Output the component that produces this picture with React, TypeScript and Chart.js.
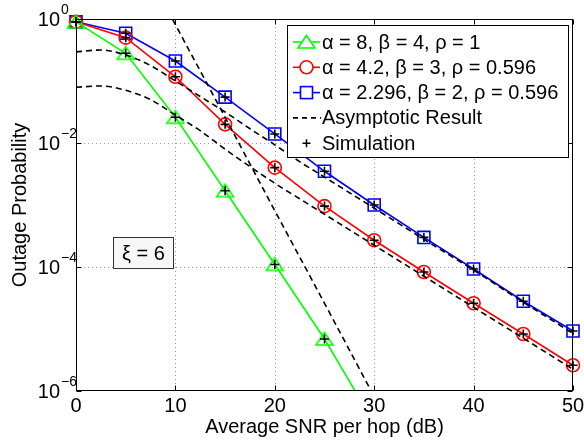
import React, { useEffect, useRef } from "react";
import { Chart, registerables } from "chart.js";
Chart.register(...registerables);

// ---- data ----
const snrDb = [0, 5, 10, 15, 20, 25, 30, 35, 40, 45, 50];
const snrDbAlpha8 = [0, 5, 10, 15, 20, 25, 30];
const outageAlpha8 = [0.9, 0.28, 0.026, 0.0017, 1.1e-4, 6.9e-6, 3e-7];
const outageAlpha42 = [0.9, 0.5, 0.117, 0.02, 0.004, 9.6e-4, 2.7e-4, 8.3e-5, 2.6e-5, 8.3e-6, 2.6e-6];
const outageAlpha2296 = [0.9, 0.59, 0.21, 0.055, 0.014, 0.0035, 0.001, 3.0e-4, 9.3e-5, 2.8e-5, 9.3e-6];

const simSnrDbAlpha8 = [0, 5, 10, 15, 20, 25];
const simAlpha8 = [0.9, 0.28, 0.026, 0.0017, 1.1e-4, 6.9e-6];
const simAlpha42 = [0.9, 0.5, 0.117, 0.02, 0.004, 9.6e-4, 2.7e-4, 8.3e-5, 2.6e-5, 8.3e-6, 2.6e-6];
const simAlpha2296 = [0.9, 0.59, 0.21, 0.055, 0.014, 0.0035, 0.001, 3.0e-4, 9.3e-5, 2.8e-5, 9.3e-6];

const asymSnrDb = [0, 2.5, 5, 7.5, 10, 12.5, 15, 17.5, 20, 22.5, 25, 30, 35, 40, 45, 50];
const asymAlpha42 = [0.0794, 0.0832, 0.0708, 0.0501, 0.0282, 0.0158, 0.00794, 0.00417, 0.00224, 0.00126, 7.1e-4, 2.24e-4, 7.1e-5, 2.24e-5, 7.1e-6, 2.24e-6];
const asymAlpha2296 = [0.295, 0.316, 0.263, 0.178, 0.1, 0.0562, 0.0316, 0.017, 0.00933, 0.005, 0.00282, 8.9e-4, 2.8e-4, 8.9e-5, 2.7e-5, 8.5e-6];
const asymSnrDbAlpha8 = [5, 10, 15, 20, 25, 30];
const asymAlpha8 = [26, 0.81, 0.026, 8.1e-4, 2.6e-5, 8.1e-7];

const legendLabels = [
  "α = 8, β = 4, ρ = 1",
  "α = 4.2, β = 3, ρ = 0.596",
  "α = 2.296, β = 2, ρ = 0.596",
  "Asymptotic Result",
  "Simulation",
];
const xTicks = [0, 10, 20, 30, 40, 50];
const yTicks = [1, 1e-2, 1e-4, 1e-6];
const yTickExponents = ["0", "−2", "−4", "−6"];
const xTitle = "Average SNR per hop (dB)";
const yTitle = "Outage Probability";
const annotationText = "ξ = 6";

const GREEN = "#00ff00";
const RED = "#ff0000";
const BLUE = "#0000ff";
const FONT = '"Liberation Sans", Arial, Helvetica, sans-serif';

function pts(xs: number[], ys: number[]) {
  return xs.map((x, i) => ({ x, y: ys[i] }));
}

function triPath(ctx: CanvasRenderingContext2D, x: number, y: number) {
  ctx.beginPath();
  ctx.moveTo(x, y - 6.5);
  ctx.lineTo(x + 8.5, y + 6);
  ctx.lineTo(x - 8.5, y + 6);
  ctx.closePath();
}

function makeTriangle(): HTMLCanvasElement {
  const c = document.createElement("canvas");
  c.width = 20;
  c.height = 16;
  const g = c.getContext("2d")!;
  triPath(g, 10, 8);
  g.strokeStyle = GREEN;
  g.lineWidth = 1.6;
  g.stroke();
  return c;
}

const framePlugin = {
  id: "frame",
  beforeDatasetsDraw(chart: any) {
    const { ctx, chartArea: a, scales } = chart;
    const xs = scales.x;
    const ys = scales.y;
    ctx.save();
    ctx.strokeStyle = "#9a9a9a";
    ctx.lineWidth = 1;
    ctx.setLineDash([1, 3]);
    for (const v of xTicks) {
      if (v === 0 || v === 50) continue;
      const p = Math.round(xs.getPixelForValue(v)) + 0.5;
      ctx.beginPath();
      ctx.moveTo(p, a.top);
      ctx.lineTo(p, a.bottom);
      ctx.stroke();
    }
    for (const v of yTicks) {
      if (v === 1 || v === 1e-6) continue;
      const p = Math.round(ys.getPixelForValue(v)) + 0.5;
      ctx.beginPath();
      ctx.moveTo(a.left, p);
      ctx.lineTo(a.right, p);
      ctx.stroke();
    }
    ctx.restore();
  },
  afterDatasetsDraw(chart: any) {
    const { ctx, chartArea: a, scales } = chart;
    const xs = scales.x;
    const ys = scales.y;
    ctx.save();
    // axes box
    ctx.strokeStyle = "#000";
    ctx.lineWidth = 1;
    ctx.setLineDash([]);
    const L = Math.round(a.left) + 0.5;
    const R = Math.round(a.right) - 0.5;
    const T = Math.round(a.top) + 0.5;
    const B = Math.round(a.bottom) - 0.5;
    ctx.strokeRect(L, T, R - L, B - T);
    // inward ticks
    ctx.beginPath();
    for (const v of xTicks) {
      const p = Math.round(xs.getPixelForValue(v)) + 0.5;
      ctx.moveTo(p, B);
      ctx.lineTo(p, B - 5);
      ctx.moveTo(p, T);
      ctx.lineTo(p, T + 5);
    }
    for (const v of yTicks) {
      const p = Math.round(ys.getPixelForValue(v)) + 0.5;
      ctx.moveTo(L, p);
      ctx.lineTo(L + 5, p);
      ctx.moveTo(R, p);
      ctx.lineTo(R - 5, p);
    }
    ctx.stroke();

    // tick labels
    ctx.fillStyle = "#000";
    ctx.font = `20px ${FONT}`;
    ctx.textAlign = "center";
    ctx.textBaseline = "alphabetic";
    for (const v of xTicks) {
      ctx.fillText(String(v), xs.getPixelForValue(v), 412);
    }
    yTicks.forEach((v, i) => {
      const p = ys.getPixelForValue(v);
      ctx.font = `20px ${FONT}`;
      ctx.textAlign = "right";
      ctx.textBaseline = "middle";
      ctx.fillText("10", 60, p + 1);
      ctx.font = `14px ${FONT}`;
      ctx.textAlign = "left";
      ctx.fillText(yTickExponents[i], 61, p - 9);
    });

    // axis titles
    ctx.font = `20px ${FONT}`;
    ctx.textAlign = "center";
    ctx.textBaseline = "alphabetic";
    ctx.fillText(xTitle, (a.left + a.right) / 2, 433);
    ctx.save();
    ctx.translate(26, (a.top + a.bottom) / 2);
    ctx.rotate(-Math.PI / 2);
    ctx.fillText(yTitle, 0, 0);
    ctx.restore();

    // annotation box
    ctx.fillStyle = "#f7f7f7";
    ctx.fillRect(113.5, 237.5, 60, 31);
    ctx.strokeStyle = "#333";
    ctx.strokeRect(113.5, 237.5, 60, 31);
    ctx.fillStyle = "#000";
    ctx.textAlign = "center";
    ctx.textBaseline = "middle";
    ctx.fillText(annotationText, 143.5, 254);

    // legend
    const bx = 287.5, by = 25.5, bw = 281, bh = 132;
    ctx.fillStyle = "#fff";
    ctx.fillRect(bx, by, bw, bh);
    ctx.strokeStyle = "#000";
    ctx.lineWidth = 1;
    ctx.strokeRect(bx, by, bw, bh);
    const x0 = 293, x1 = 320, xm = 306.5;
    legendLabels.forEach((lab, i) => {
      const yy = 42 + i * 25.3;
      ctx.lineWidth = 1.6;
      if (i < 3) {
        const col = [GREEN, RED, BLUE][i];
        ctx.strokeStyle = col;
        ctx.setLineDash([]);
        ctx.beginPath();
        ctx.moveTo(x0, yy);
        ctx.lineTo(x1, yy);
        ctx.stroke();
        if (i === 0) {
          triPath(ctx, xm, yy);
          ctx.fillStyle = "#fff";
          ctx.fill();
          ctx.stroke();
        } else if (i === 1) {
          ctx.beginPath();
          ctx.arc(xm, yy, 6.5, 0, Math.PI * 2);
          ctx.fillStyle = "#fff";
          ctx.fill();
          ctx.stroke();
        } else {
          ctx.fillStyle = "#fff";
          ctx.fillRect(xm - 6, yy - 6, 12, 12);
          ctx.strokeRect(xm - 6, yy - 6, 12, 12);
        }
      } else if (i === 3) {
        ctx.strokeStyle = "#000";
        ctx.setLineDash([5, 4]);
        ctx.beginPath();
        ctx.moveTo(x0, yy);
        ctx.lineTo(x1 + 1, yy);
        ctx.stroke();
        ctx.setLineDash([]);
      } else {
        ctx.strokeStyle = "#000";
        ctx.lineWidth = 1.5;
        ctx.beginPath();
        ctx.moveTo(xm - 4, yy);
        ctx.lineTo(xm + 4, yy);
        ctx.moveTo(xm, yy - 4);
        ctx.lineTo(xm, yy + 4);
        ctx.stroke();
      }
      ctx.fillStyle = "#000";
      ctx.font = `20px ${FONT}`;
      ctx.textAlign = "left";
      ctx.textBaseline = "middle";
      ctx.fillText(lab, 322, yy + 1);
    });
    ctx.restore();
  },
};

export default function App() {
  const ref = useRef<HTMLCanvasElement | null>(null);
  useEffect(() => {
    if (!ref.current) return;
    const tri = makeTriangle();
    const markClip = { left: 10, top: 10, right: 10, bottom: 0 };
    const lineDs = (label: string, data: any, color: string, style: any, radius: number) => ({
      label,
      data,
      borderColor: color,
      backgroundColor: "rgba(0,0,0,0)",
      borderWidth: 1.6,
      pointStyle: style,
      pointRadius: radius,
      pointBorderColor: color,
      pointBackgroundColor: "rgba(0,0,0,0)",
      pointBorderWidth: 1.6,
      tension: 0,
      clip: markClip,
      order: 3,
    });
    const asymDs = (data: any) => ({
      label: legendLabels[3],
      data,
      borderColor: "#000",
      borderWidth: 1.6,
      borderDash: [6, 4],
      pointRadius: 0,
      cubicInterpolationMode: "monotone",
      clip: 0,
      order: 2,
    });
    const simDs = (data: any) => ({
      label: legendLabels[4],
      data,
      showLine: false,
      pointStyle: "cross",
      pointRadius: 4.5,
      pointBorderColor: "#000",
      pointBorderWidth: 1.6,
      clip: markClip,
      order: 1,
    });
    const chart = new Chart(ref.current, {
      type: "line",
      data: {
        datasets: [
          lineDs(legendLabels[0], pts(snrDbAlpha8, outageAlpha8), GREEN, tri, 8),
          lineDs(legendLabels[1], pts(snrDb, outageAlpha42), RED, "circle", 6.5),
          lineDs(legendLabels[2], pts(snrDb, outageAlpha2296), BLUE, "rect", 8.5),
          asymDs(pts(asymSnrDbAlpha8, asymAlpha8)),
          asymDs(pts(asymSnrDb, asymAlpha42)),
          asymDs(pts(asymSnrDb, asymAlpha2296)),
          simDs(pts(simSnrDbAlpha8, simAlpha8)),
          simDs(pts(snrDb, simAlpha42)),
          simDs(pts(snrDb, simAlpha2296)),
        ] as any,
      },
      options: {
        animation: false,
        responsive: false,
        devicePixelRatio: 1,
        layout: { padding: { left: 76, top: 19, right: 11, bottom: 50 } },
        plugins: { legend: { display: false }, tooltip: { enabled: false } },
        scales: {
          x: { type: "linear", min: 0, max: 50, display: false },
          y: { type: "logarithmic", min: 1e-6, max: 1, display: false },
        },
      } as any,
      plugins: [framePlugin],
    });
    return () => chart.destroy();
  }, []);
  return (
    <div style={{ position: "fixed", left: 0, top: 0, width: 584, height: 441, background: "#fff" }}>
      <canvas ref={ref} width={584} height={441} style={{ display: "block" }} />
    </div>
  );
}
